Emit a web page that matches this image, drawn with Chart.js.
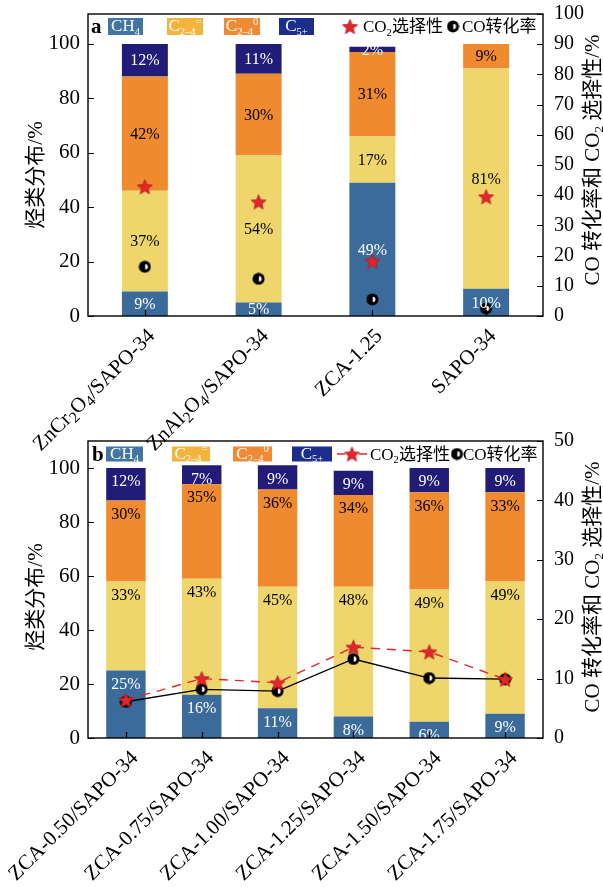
<!DOCTYPE html>
<html>
<head>
<meta charset="utf-8">
<script src="https://cdn.jsdelivr.net/npm/chart.js@4.4.1/dist/chart.umd.min.js"></script>
<style>
html,body{margin:0;padding:0;background:#fff;}
#wrap{position:relative;width:603px;height:887px;overflow:hidden;background:#fff;}
.panel{position:absolute;left:0;width:603px;}
canvas{display:block;}
</style>
</head>
<body>
<div id="wrap">
  <div class="panel" style="top:0;height:475px;z-index:1"><canvas id="ca" width="603" height="475"></canvas></div>
  <div class="panel" style="top:430px;height:457px;z-index:2"><canvas id="cb" width="603" height="457"></canvas></div>
</div>
<script>
// ---------- panel a: catalyst comparison ----------
const catsA      = ['ZnCr_2O_4/SAPO-34', 'ZnAl_2O_4/SAPO-34', 'ZCA-1.25', 'SAPO-34'];
const ch4A       = [9, 5, 49, 10];
const olefinA    = [37, 54, 17, 81];
const paraffinA  = [42, 30, 31, 9];
const c5A        = [12, 11, 2, 0];
const co2SelA    = [42.8, 37.8, 18.2, 39.5];
const coConvA    = [16.3, 12.3, 5.5, 2.5];

// ---------- panel b: ZCA series ----------
const catsB      = ['ZCA-0.50/SAPO-34', 'ZCA-0.75/SAPO-34', 'ZCA-1.00/SAPO-34',
                    'ZCA-1.25/SAPO-34', 'ZCA-1.50/SAPO-34', 'ZCA-1.75/SAPO-34'];
const ch4B       = [25, 16, 11, 8, 6, 9];
const olefinB    = [33, 43, 45, 48, 49, 49];
const paraffinB  = [30, 35, 36, 34, 36, 33];
const c5B        = [12, 7, 9, 9, 9, 9];
const co2SelB    = [6.4, 10.0, 9.3, 15.3, 14.5, 9.9];
const coConvB    = [6.1, 8.2, 7.9, 13.3, 10.1, 9.9];

// tick labels
const hcTicks     = [0, 20, 40, 60, 80, 100];
const rightTicksA = [0, 10, 20, 30, 40, 50, 60, 70, 80, 90, 100];
const rightTicksB = [0, 10, 20, 30, 40, 50];

// series names (with _ subscript / ^ superscript markup)
const seriesNames = ['CH_4', 'C_{2–4}^{=}', 'C_{2–4}^{0}', 'C_{5+}'];
const selName  = 'CO_2选择性';
const convName = 'CO转化率';
const leftTitle  = '烃类分布/%';
const rightTitle = 'CO 转化率和 CO_2 选择性/%';

const FONT = "'Liberation Serif','Noto Sans CJK SC',serif";
const BAR_COLORS    = ['#3A6B9A', '#EED66C', '#EF8A2F', '#201C78'];
const LEGEND_COLORS = ['#4275A3', '#F3B43E', '#F08A35', '#1C2E8C'];
const LABEL_COLORS  = ['#ffffff', '#000000', '#000000', '#ffffff'];
const RED = '#E3262B';

// ---------- marker images ----------
function makeStar(size) {
  const c = document.createElement('canvas');
  c.width = c.height = size;
  const g = c.getContext('2d');
  const r = size / 2, ri = r * 0.42;
  g.beginPath();
  for (let k = 0; k < 10; k++) {
    const a = -Math.PI / 2 + k * Math.PI / 5;
    const rr = k % 2 ? ri : r - 0.6;
    g.lineTo(r + rr * Math.cos(a), r + 0.8 + rr * Math.sin(a));
  }
  g.closePath();
  g.fillStyle = RED; g.fill();
  g.lineWidth = 0.7; g.strokeStyle = '#B5121C'; g.stroke();
  return c;
}
function makeDot(size) {
  const c = document.createElement('canvas');
  c.width = c.height = size;
  const g = c.getContext('2d');
  const r = size / 2;
  g.beginPath(); g.arc(r, r, r - 0.5, 0, 2 * Math.PI); g.fillStyle = '#000'; g.fill();
  g.beginPath(); g.arc(r + 0.3, r, r * 0.42, -Math.PI / 2, Math.PI / 2); g.closePath();
  g.fillStyle = '#fff'; g.fill();
  return c;
}
const starImg = makeStar(17);
const dotImg = makeDot(13);

// ---------- rich text (sub/superscripts) ----------
function parseRich(s) {
  const out = []; let buf = ''; let i = 0;
  const flush = () => { if (buf) { out.push({ t: buf, m: 0 }); buf = ''; } };
  while (i < s.length) {
    const c = s[i];
    if ((c === '_' || c === '^') && i + 1 < s.length) {
      flush();
      const m = c === '_' ? 1 : 2;
      if (s[i + 1] === '{') { const j = s.indexOf('}', i + 2); out.push({ t: s.slice(i + 2, j), m }); i = j + 1; }
      else { out.push({ t: s[i + 1], m }); i += 2; }
    } else { buf += c; i++; }
  }
  flush();
  return out;
}
function drawRich(ctx, s, x, y, size, align, color, weight, subScale) {
  const parts = parseRich(s);
  const w8 = weight || 'normal';
  const ss = subScale || 0.62;
  let total = 0;
  const sizes = parts.map(p => p.m ? size * ss : size);
  const widths = parts.map((p, k) => { ctx.font = `${w8} ${sizes[k]}px ${FONT}`; return ctx.measureText(p.t).width; });
  widths.forEach(w => total += w);
  let cx = align === 'right' ? x - total : align === 'center' ? x - total / 2 : x;
  const base = y + size * 0.33;
  ctx.fillStyle = color || '#000';
  ctx.textAlign = 'left';
  ctx.textBaseline = 'alphabetic';
  parts.forEach((p, k) => {
    ctx.font = `${w8} ${sizes[k]}px ${FONT}`;
    const dy = p.m === 1 ? size * 0.2 : p.m === 2 ? -size * 0.38 : 0;
    ctx.fillText(p.t, cx, base + dy);
    cx += widths[k];
  });
  return total;
}

// ---------- panel decorations ----------
function panelPlugin(opt) {
  return {
    id: 'panelDeco' + opt.letter,
    afterDatasetsDraw(chart) {
      const ctx = chart.ctx;
      ctx.save();
      for (let s = 0; s < 4; s++) {
        const meta = chart.getDatasetMeta(2 + s);
        const vals = chart.data.datasets[2 + s].data;
        meta.data.forEach((el, j) => {
          const v = vals[j];
          if (!v) return;
          const top = Math.min(el.y, el.base), bot = Math.max(el.y, el.base);
          const y = opt.labelMode === 'center' ? (top + bot) / 2 : top + 13;
          ctx.font = `16px ${FONT}`;
          ctx.fillStyle = LABEL_COLORS[s];
          ctx.textAlign = 'center';
          ctx.textBaseline = 'middle';
          ctx.fillText(v + '%', el.x, y + 1);
        });
      }
      ctx.restore();
    },
    afterDraw(chart) {
      const ctx = chart.ctx;
      const a = chart.chartArea;
      const xs = chart.scales.x, ys = chart.scales.y, y2 = chart.scales.y2;
      ctx.save();
      // frame
      ctx.strokeStyle = '#000';
      ctx.lineWidth = 1.4;
      ctx.strokeRect(a.left, a.top, a.right - a.left, a.bottom - a.top);
      // inward tick marks
      ctx.lineWidth = 1.2;
      ctx.beginPath();
      ys.ticks.forEach(t => { const p = Math.round(ys.getPixelForValue(t.value)) + 0.5; ctx.moveTo(a.left, p); ctx.lineTo(a.left + 6, p); });
      y2.ticks.forEach(t => { const p = Math.round(y2.getPixelForValue(t.value)) + 0.5; ctx.moveTo(a.right, p); ctx.lineTo(a.right - 6, p); });
      chart.data.labels.forEach((l, i) => { const p = Math.round(xs.getPixelForValue(i)) + 0.5; ctx.moveTo(p, a.bottom); ctx.lineTo(p, a.bottom - 6); });
      ctx.stroke();
      // rotated category labels
      chart.data.labels.forEach((l, i) => {
        const p = xs.getPixelForValue(i);
        ctx.save();
        ctx.translate(p + opt.xlDx, a.bottom + opt.xlDy);
        ctx.rotate(-Math.PI / 4);
        drawRich(ctx, l, 0, 0, 21, 'right', '#000', 'normal', 0.74);
        ctx.restore();
      });
      // axis titles
      ctx.save();
      ctx.translate(opt.leftTitle[0], opt.leftTitle[1]);
      ctx.rotate(-Math.PI / 2);
      drawRich(ctx, leftTitle, 0, 0, 21, 'center', '#000');
      ctx.restore();
      ctx.save();
      ctx.translate(opt.rightTitle[0], opt.rightTitle[1]);
      ctx.rotate(-Math.PI / 2);
      drawRich(ctx, rightTitle, 0, 0, 21, 'center', '#000');
      ctx.restore();
      // legend row inside the frame
      const L = opt.legend;
      const cy = L.cy;
      drawRich(ctx, opt.letter, L.letterX, cy, 21, 'left', '#000', 'bold');
      L.boxes.forEach((b, k) => {
        ctx.fillStyle = LEGEND_COLORS[k];
        ctx.fillRect(b[0], cy - L.boxH / 2, b[1] - b[0], L.boxH);
        drawRich(ctx, seriesNames[k], (b[0] + b[1]) / 2, cy - 1, 17, 'center', '#ffffff');
      });
      if (L.withLine) {
        ctx.strokeStyle = RED; ctx.lineWidth = 1.4;
        ctx.beginPath();
        ctx.moveTo(L.starX - 15, cy); ctx.lineTo(L.starX - 7, cy);
        ctx.moveTo(L.starX + 7, cy); ctx.lineTo(L.starX + 15, cy);
        ctx.stroke();
      }
      ctx.drawImage(starImg, L.starX - starImg.width / 2, cy - starImg.height / 2);
      drawRich(ctx, selName, L.selX, cy, 17, 'left', '#000');
      ctx.drawImage(dotImg, L.dotX - dotImg.width / 2, cy - dotImg.height / 2);
      drawRich(ctx, convName, L.convX, cy, 17, 'left', '#000');
      ctx.restore();
    }
  };
}

function buildChart(canvasId, d, opt) {
  const leftFont = { family: FONT, size: 21 };
  const rightFont = { family: FONT, size: 20 };
  const datasets = [
    { type: 'line', label: 'sel', data: d.sel, yAxisID: 'y2', order: 0, showLine: opt.lines,
      borderColor: RED, borderWidth: 1.4, borderDash: [9, 7], pointStyle: starImg,
      pointRadius: 8, pointHoverRadius: 8, fill: false },
    { type: 'line', label: 'conv', data: d.conv, yAxisID: 'y2', order: 1, showLine: opt.lines,
      borderColor: '#000', borderWidth: 1.3, pointStyle: dotImg,
      pointRadius: 7, pointHoverRadius: 7, fill: false }
  ];
  [d.ch4, d.olefin, d.paraffin, d.c5].forEach((arr, k) => {
    datasets.push({ type: 'bar', label: seriesNames[k], data: arr, yAxisID: 'y', order: 2 + k,
      stack: 'hc', backgroundColor: BAR_COLORS[k], borderWidth: 0,
      categoryPercentage: 1, barPercentage: opt.barPct });
  });
  return new Chart(document.getElementById(canvasId), {
    data: { labels: d.cats, datasets },
    options: {
      responsive: false,
      animation: false,
      events: [],
      layout: { padding: { top: opt.padTop, left: 0, right: 0, bottom: 0 } },
      plugins: { legend: { display: false }, tooltip: { enabled: false } },
      scales: {
        x: { stacked: true, grid: { display: false, drawTicks: false }, border: { display: false },
             ticks: { display: false },
             afterFit: s => { s.height = opt.xh; s.paddingLeft = 0; s.paddingRight = 0; } },
        y: { stacked: true, position: 'left', min: 0, max: opt.ymax,
             afterBuildTicks: s => { s.ticks = hcTicks.map(v => ({ value: v })); },
             ticks: { font: leftFont, color: '#000', padding: 8 },
             grid: { display: false, drawTicks: false }, border: { display: false },
             afterFit: s => { s.width = 88; s.paddingTop = 0; s.paddingBottom = 0; } },
        y2: { position: 'right', min: 0, max: opt.y2max,
             afterBuildTicks: s => { s.ticks = opt.y2ticks.map(v => ({ value: v })); },
             ticks: { font: rightFont, color: '#000', padding: 11 },
             grid: { display: false, drawTicks: false }, border: { display: false },
             afterFit: s => { s.width = 60; s.paddingTop = 0; s.paddingBottom = 0; } }
      }
    },
    plugins: [panelPlugin(opt)]
  });
}

buildChart('ca',
  { cats: catsA, ch4: ch4A, olefin: olefinA, paraffin: paraffinA, c5: c5A, sel: co2SelA, conv: coConvA },
  { letter: 'a', lines: false, barPct: 0.404, padTop: 14, xh: 159, ymax: 111, y2max: 100,
    y2ticks: rightTicksA, labelMode: 'center', xlDx: 6, xlDy: 16,
    leftTitle: [35, 175], rightTitle: [592, 160],
    legend: { cy: 26.5, letterX: 91, boxH: 17, boxes: [[108, 143], [167, 203], [224, 260], [279, 314]],
              withLine: false, starX: 350, selX: 363, dotX: 453, convX: 462 } });

buildChart('cb',
  { cats: catsB, ch4: ch4B, olefin: olefinB, paraffin: paraffinB, c5: c5B, sel: co2SelB, conv: coConvB },
  { letter: 'b', lines: true, barPct: 0.52, padTop: 11, xh: 149, ymax: 110, y2max: 50,
    y2ticks: rightTicksB, labelMode: 'top', xlDx: 8, xlDy: 16,
    leftTitle: [35, 167], rightTitle: [592, 157],
    legend: { cy: 24, letterX: 92, boxH: 15, boxes: [[106, 143], [172, 210], [233, 272], [292, 332]],
              withLine: true, starX: 352, selX: 370, dotX: 457, convX: 463 } });
</script>
</body>
</html>
